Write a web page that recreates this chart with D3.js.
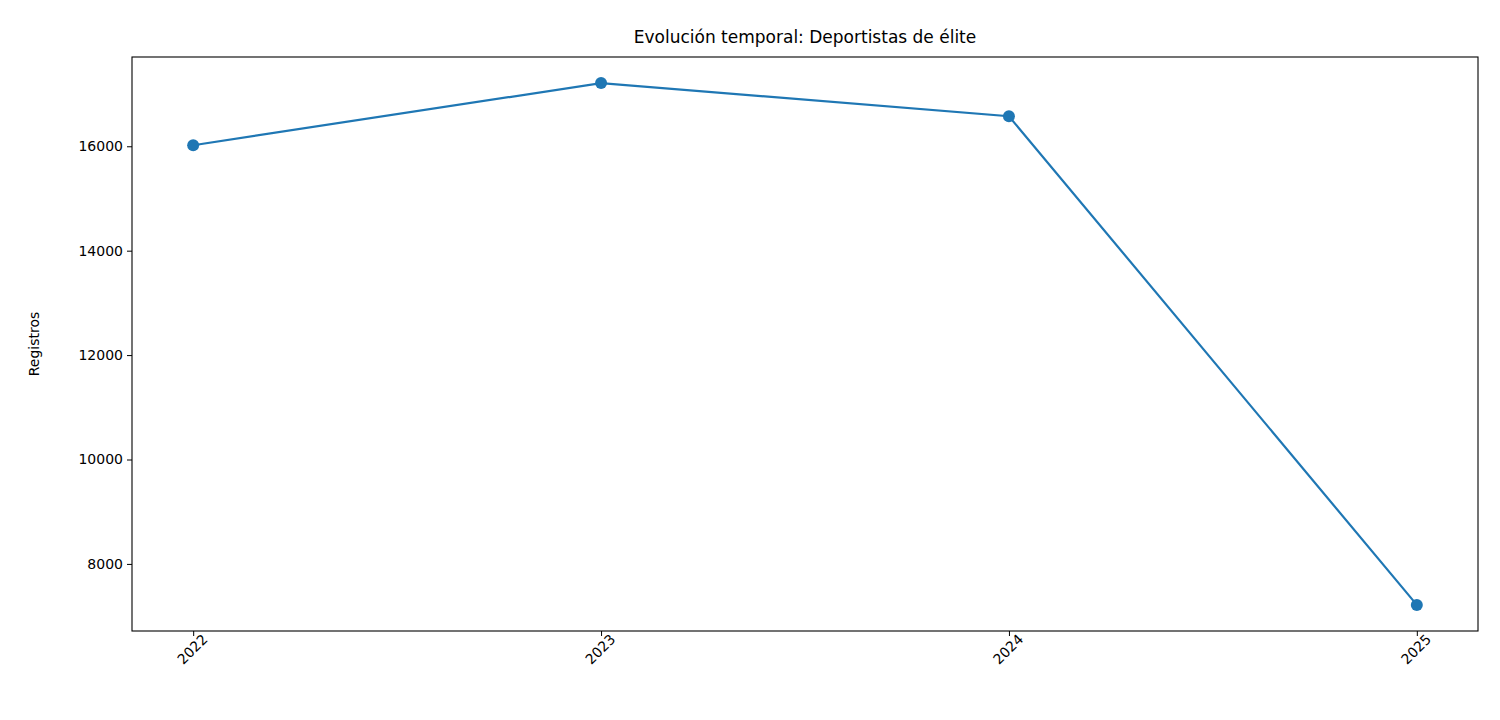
<!DOCTYPE html>
<html><head><meta charset="utf-8">
<script src="https://cdn.jsdelivr.net/npm/d3@7"></script>
<style>body{margin:0;background:#fff}svg,svg text{font-family:"DejaVu Sans",sans-serif}</style>
</head><body><svg id="c" width="1500" height="720"></svg>
<script>
const years = ["2022","2023","2024","2025"];
const values = [16020, 17210, 16575, 7215];
const yTicks = [8000,10000,12000,14000,16000];

const L=132,R=1478,T=57,B=631;
const svg=d3.select("#c");
const x=d3.scaleLinear().domain([-0.15,3.15]).range([L,R]);
const y=d3.scaleLinear().domain([6715,17710]).range([B,T]);

const gx=svg.append("g").attr("transform",`translate(0,${B})`)
  .call(d3.axisBottom(x).tickValues([0,1,2,3]).tickFormat(i=>years[i]).tickSize(5).tickPadding(4));
gx.selectAll("text").style("font-size","14px").attr("fill","#000")
  .attr("text-anchor","end").attr("x",4).attr("y",12).attr("dy","0.35em")
  .attr("transform","rotate(-45)");
const gy=svg.append("g").attr("transform",`translate(${L},0)`)
  .call(d3.axisLeft(y).tickValues(yTicks).tickFormat(d3.format("d")).tickSize(5).tickPadding(4));
gy.selectAll("text").style("font-size","14px").attr("fill","#000");
svg.selectAll(".domain").remove();
svg.append("rect").attr("x",L).attr("y",T).attr("width",R-L).attr("height",B-T)
  .attr("fill","none").attr("stroke","#000").attr("stroke-width",1.1);

svg.append("path").datum(values).attr("fill","none").attr("stroke","#1f77b4").attr("stroke-width",2.2)
  .attr("d",d3.line().x((d,i)=>x(i)).y(d=>y(d)));
svg.selectAll("circle.p").data(values).join("circle").attr("cx",(d,i)=>x(i)).attr("cy",d=>y(d))
  .attr("r",6).attr("fill","#1f77b4");

svg.append("text").attr("x",(L+R)/2).attr("y",43).attr("text-anchor","middle").style("font-size","17px")
  .text("Evolución temporal: Deportistas de élite");
svg.append("text").attr("transform",`translate(39,${(T+B)/2}) rotate(-90)`).attr("text-anchor","middle")
  .style("font-size","14px").text("Registros");
</script></body></html>
